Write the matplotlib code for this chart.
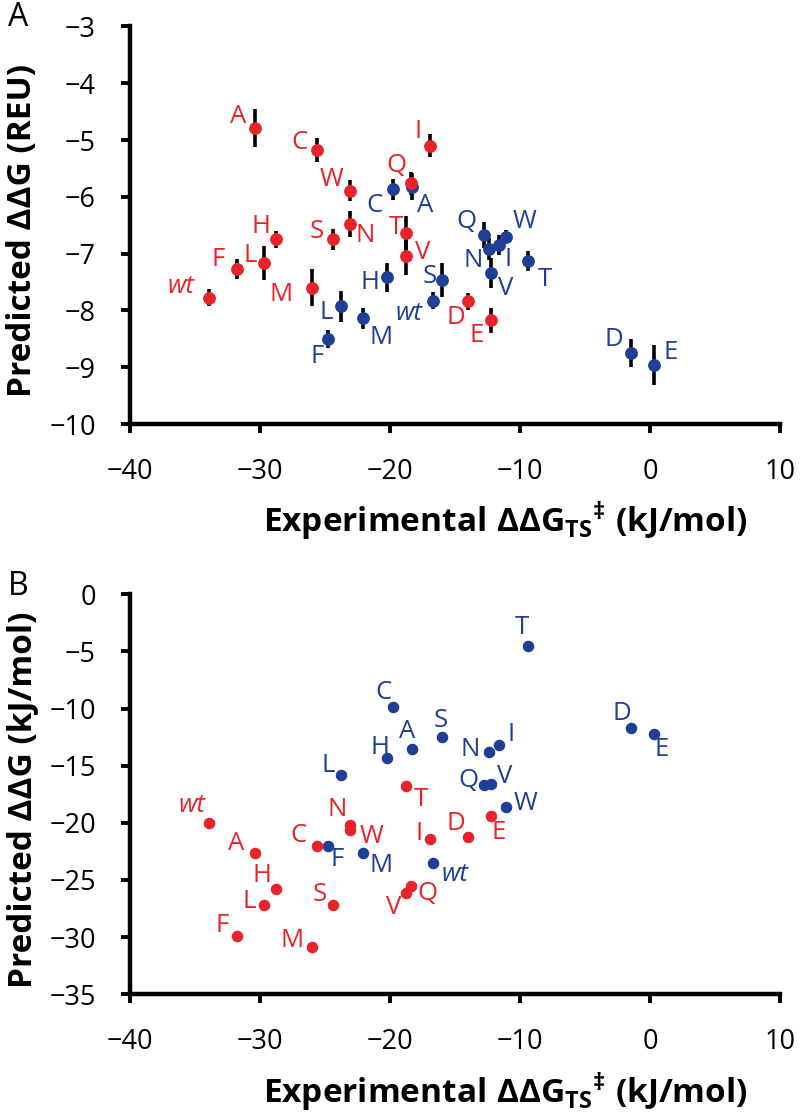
import matplotlib
matplotlib.use('Agg')
import matplotlib.pyplot as plt

plt.rcParams['font.family'] = ['Open Sans', 'DejaVu Sans']
plt.rcParams['mathtext.fontset'] = 'custom'
plt.rcParams['mathtext.rm'] = 'Open Sans'
plt.rcParams['mathtext.bf'] = 'Open Sans:bold'
plt.rcParams['mathtext.it'] = 'Open Sans:italic'

# mutantes (mesma ordem nas duas series)
letras = ['wt', 'A', 'C', 'D', 'E', 'F', 'H', 'I', 'L', 'M', 'N', 'Q', 'S', 'T', 'V', 'W']

# serie vermelha
exp_verm = [-33.9, -30.4, -25.6, -14.0, -12.2, -31.8, -28.8, -16.9, -29.7, -26.0, -23.1, -18.4, -24.4, -18.8, -18.8, -23.1]
reu_verm = [-7.78, -4.79, -5.18, -7.84, -8.17, -7.27, -6.75, -5.10, -7.16, -7.60, -6.48, -5.76, -6.75, -6.64, -7.05, -5.89]
err_verm = [0.15, 0.33, 0.21, 0.15, 0.22, 0.17, 0.15, 0.20, 0.30, 0.33, 0.23, 0.20, 0.18, 0.30, 0.33, 0.18]
kj_verm = [-20.0, -22.6, -22.0, -21.2, -19.4, -29.9, -25.8, -21.4, -27.2, -30.9, -20.2, -25.5, -27.2, -16.8, -26.1, -20.6]

# serie azul
exp_azul = [-16.7, -18.3, -19.8, -1.5, 0.3, -24.8, -20.2, -11.6, -23.8, -22.1, -12.4, -12.8, -16.0, -9.4, -12.2, -11.1]
reu_azul = [-7.83, -5.82, -5.87, -8.75, -8.96, -8.50, -7.42, -6.85, -7.93, -8.14, -6.92, -6.67, -7.46, -7.13, -7.34, -6.70]
err_azul = [0.15, 0.24, 0.18, 0.25, 0.36, 0.16, 0.26, 0.18, 0.28, 0.18, 0.20, 0.23, 0.30, 0.18, 0.27, 0.12]
kj_azul = [-23.5, -13.5, -9.9, -11.7, -12.2, -22.0, -14.3, -13.2, -15.8, -22.6, -13.8, -16.7, -12.5, -4.5, -16.6, -18.6]

VERMELHO = '#E8232A'
AZUL = '#1F3E96'

# posicao dos rotulos em relacao ao ponto (pixels)
desl_a_verm = [(-28, 11), (-17, 12), (-18, 8), (-12, -16), (-15, -15), (-18, 9), (-15, 13), (-12, 14),
               (-14, 7), (-31, -7), (15, -11), (-14, 18), (-16, 8), (-10, 6), (17, 4), (-18, 11)]
desl_a_azul = [(-24, -13), (13, -19), (-18, -16), (-17, 14), (17, 12), (-10, -18), (-17, -5), (9, -14),
               (-14, -6), (18, -19), (-16, -11), (-17, 13), (-12, 3), (17, -18), (14, -16), (19, 15)]
desl_b_verm = [(-17, 17), (-19, 9), (-19, 10), (-12, 13), (7, -17), (-14, 10), (-14, 14), (-11, 5),
               (-15, 4), (-20, 7), (-13, 16), (17, -8), (-13, 11), (15, -13), (-12, -15), (22, -7)]
desl_b_azul = [(22, -12), (-5, 17), (-9, 15), (-9, 14), (8, -16), (10, -14), (-7, 10), (12, 11),
               (-12, 9), (18, -13), (-19, 2), (-15, 5), (-1, 17), (-6, 18), (13, 7), (20, 3)]


def rotular(ax, xs, ys, desl, cor):
    for letra, x, y, (dx, dy) in zip(letras, xs, ys, desl):
        estilo = 'italic' if letra == 'wt' else 'normal'
        ax.annotate(letra, (x, y), xytext=(dx, dy), textcoords='offset pixels',
                    ha='center', va='center', color=cor, fontsize=18.5, style=estilo, zorder=5)


def formatar_eixo(ax, ylabel):
    for lado in ['top', 'right']:
        ax.spines[lado].set_visible(False)
    for lado in ['left', 'bottom']:
        ax.spines[lado].set_linewidth(3.2)
    ax.tick_params(direction='out', length=6.5, width=2.8, labelsize=19.5, pad=18)
    ax.set_xlim(-40, 10)
    ax.set_xticks(range(-40, 11, 10))
    ax.set_xlabel(r'$\mathbf{Experimental\ \Delta\Delta G_{TS}{}^{‡}\ (kJ/mol)}$', fontsize=24)
    ax.xaxis.label.set_va('baseline')
    ax.xaxis.set_label_coords(0.577, -0.272)
    ax.set_ylabel(ylabel, fontsize=24, fontweight='bold')
    ax.yaxis.set_label_coords(-0.14, 0.486)


fig = plt.figure(figsize=(8, 11.15), dpi=100)

# Painel A: energia prevista pelo Rosetta
ax_a = fig.add_axes([0.1625, 0.6197, 0.8125, 0.3566])
ax_a.errorbar(exp_azul, reu_azul, yerr=err_azul, fmt='none', ecolor='black', elinewidth=2.6, capsize=0, zorder=2)
ax_a.errorbar(exp_verm, reu_verm, yerr=err_verm, fmt='none', ecolor='black', elinewidth=2.6, capsize=0, zorder=2)
ax_a.plot(exp_azul, reu_azul, 'o', color=AZUL, markersize=8.2, zorder=3)
ax_a.plot(exp_verm, reu_verm, 'o', color=VERMELHO, markersize=8.2, zorder=4)
rotular(ax_a, exp_verm, reu_verm, desl_a_verm, VERMELHO)
rotular(ax_a, exp_azul, reu_azul, desl_a_azul, AZUL)
ax_a.set_ylim(-10, -3)
ax_a.set_yticks(range(-10, -2, 1))
formatar_eixo(ax_a, 'Predicted ΔΔG (REU)')

# Painel B: energia prevista em kJ/mol
ax_b = fig.add_axes([0.1625, 0.1083, 0.8125, 0.3587])
ax_b.plot(exp_azul, kj_azul, 'o', color=AZUL, markersize=7.3, zorder=3)
ax_b.plot(exp_verm, kj_verm, 'o', color=VERMELHO, markersize=7.3, zorder=4)
rotular(ax_b, exp_verm, kj_verm, desl_b_verm, VERMELHO)
rotular(ax_b, exp_azul, kj_azul, desl_b_azul, AZUL)
ax_b.set_ylim(-35, 0)
ax_b.set_yticks(range(-35, 1, 5))
formatar_eixo(ax_b, 'Predicted ΔΔG (kJ/mol)')

fig.text(18 / 800, 1 - 18 / 1115, 'A', fontsize=23, ha='center', va='center')
fig.text(18 / 800, 1 - 586 / 1115, 'B', fontsize=23, ha='center', va='center')

fig.savefig('out.png', dpi=100)
